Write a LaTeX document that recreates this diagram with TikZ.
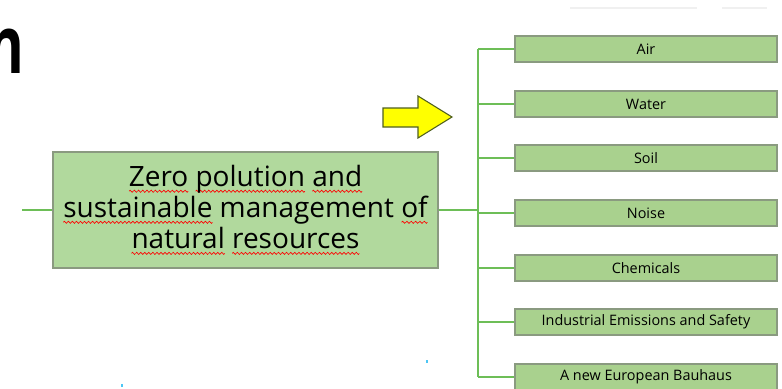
\documentclass[tikz,border=0pt]{standalone}
\usepackage{fontspec}
\setmainfont{Open Sans}
\usetikzlibrary{calc}
\definecolor{leafgreen}{HTML}{A9D18E}
\definecolor{rootgreen}{HTML}{B1D99D}
\definecolor{edgegray}{HTML}{8A9A80}
\definecolor{linkgreen}{HTML}{6DBE57}
\definecolor{arrowyellow}{HTML}{FFFF00}
\definecolor{arrowedge}{HTML}{4F5F1F}
\newsavebox\wavepiece
\newcommand\spellerr[1]{\leavevmode\setbox0\hbox{#1}\rlap{\raisebox{-4.5pt}{\hbox to \wd0{\xleaders\copy\wavepiece\hfill}}}\box0\relax}
\tikzset{
	rootbox/.style={draw=edgegray, fill=rootgreen, line width=0.8pt, minimum width=288.75pt, minimum height=87pt, inner sep=0pt, align=center, font=\fontsize{21}{23.3}\selectfont},
	leafbox/.style={draw=edgegray, fill=leafgreen, line width=0.8pt, minimum width=196.5pt, minimum height=19.5pt, inner sep=0pt, font=\fontsize{10.8}{12}\selectfont},
	link/.style={draw=linkgreen, line width=1.5pt},
}
\begin{document}
\sbox\wavepiece{\begin{pgfpicture}
	\pgfpathrectangle{\pgfpoint{0pt}{-1pt}}{\pgfpoint{3pt}{2pt}}
	\pgfusepath{use as bounding box}
	\pgfsetstrokecolor{red}\pgfsetlinewidth{0.5pt}
	\pgfpathmoveto{\pgfpoint{0pt}{0pt}}
	\pgfpathsine{\pgfpoint{0.75pt}{0.8pt}}
	\pgfpathcosine{\pgfpoint{0.75pt}{-0.8pt}}
	\pgfpathsine{\pgfpoint{0.75pt}{-0.8pt}}
	\pgfpathcosine{\pgfpoint{0.75pt}{0.8pt}}
	\pgfusepath{stroke}
\end{pgfpicture}}%
\begin{tikzpicture}[x=0.75pt, y=-0.75pt]
			\def\bx{478};
			\def\lx{646};
			
			\useasboundingbox (0,0) rectangle (782,389);
			\clip (0,0) rectangle (782,389);
			
			% heading letter
			\node[anchor=base east, inner sep=0pt, xscale=0.7, font=\fontsize{60}{64}\bfseries] (head) at (24,73) {n};
			
			% faint marks
			\draw[gray!12, line width=1.5pt] (570,8) -- (697,8);
			\draw[gray!12, line width=1.5pt] (722,8) -- (767,8);
			\fill[cyan!70] (426,360) rectangle (427.5,363);
			\fill[cyan!70] (121,384) rectangle (122.5,387);
			
			% root
			\coordinate (lend) at (22,210);
			\coordinate (fork) at (\bx,210);
			\node[rootbox] (root) at (245.5,210) {\spellerr{Zero} \spellerr{polution} \spellerr{and}\\ \spellerr{sustainable} management \spellerr{of}\\ \spellerr{natural} \spellerr{resources}};
			\draw[link] (lend) -- (root.west);
			\draw[link] (root.east) -- (fork);
			
			% leaves
			\coordinate (top) at (\bx,49);
			\coordinate (bottom) at (\bx,377);
			\draw[link] (top) -- (bottom);
			\foreach \y/\name/\txt in {49/air/Air, 104/water/Water, 158/soil/Soil, 213/noise/Noise, 268/chem/Chemicals, 322/ind/Industrial Emissions and Safety, 377/bau/A new European Bauhaus}
			{
				\node[leafbox] (\name) at (\lx,\y) {\txt};
				\coordinate (\name-j) at (\bx,\y);
				\draw[link] (\name-j) -- (\name.west);
			}
			
			% yellow arrow
			\filldraw[fill=arrowyellow, draw=arrowedge, line width=0.8pt] (383,108) -- (418,108) -- (418,96) -- (452,117) -- (418,138) -- (418,127) -- (383,127) -- cycle;
		\end{tikzpicture}
\end{document}
